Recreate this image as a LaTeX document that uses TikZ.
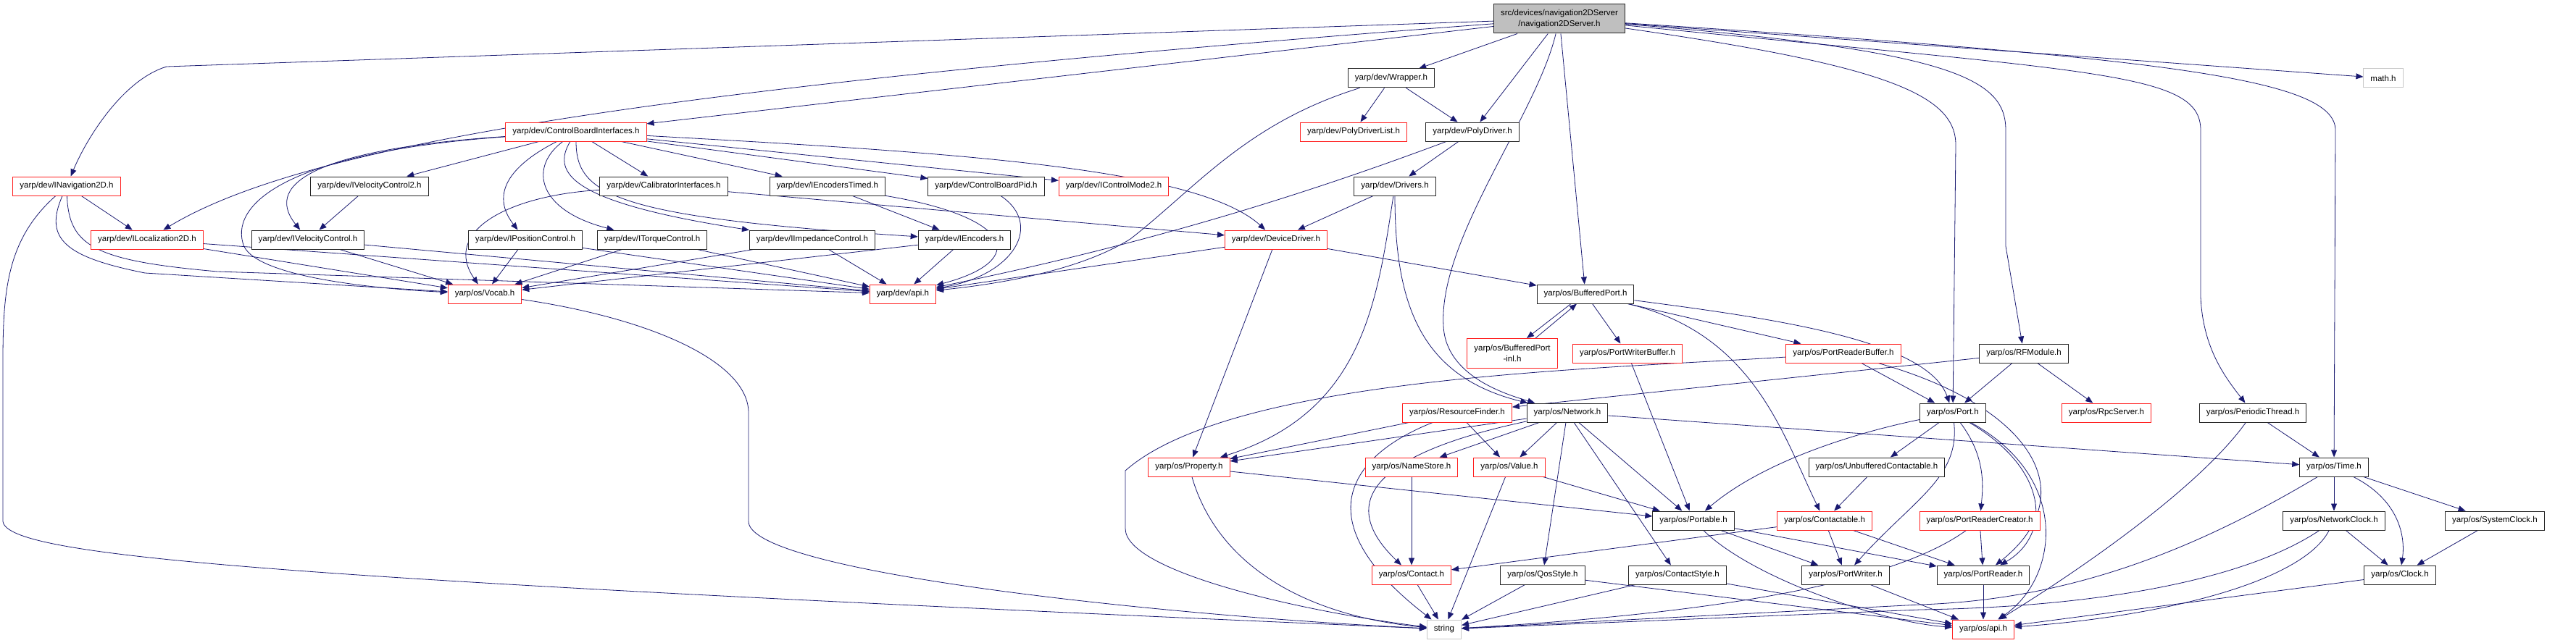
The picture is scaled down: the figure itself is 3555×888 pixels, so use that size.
\documentclass[tikz,border=0pt]{standalone}
\usepackage{fontspec}
\setmainfont{Liberation Sans}
\usetikzlibrary{arrows.meta,backgrounds}
\definecolor{edgeblue}{HTML}{191970}
\definecolor{rootgray}{HTML}{BFBFBF}
\definecolor{sysgray}{HTML}{C8C8C8}
\definecolor{incred}{HTML}{FF2020}
\tikzset{
  hdr/.style={draw=black!85, line width=1pt, fill=white, inner xsep=9.5pt, inner ysep=2pt,
    minimum height=26pt, font=\fontsize{11.5}{14.5}\selectfont},
  hdrred/.style={hdr, draw=incred},
  hdrsys/.style={hdr, draw=sysgray},
  hdrroot/.style={hdr, fill=rootgray, align=center, minimum height=40pt},
  hdrtwo/.style={hdrred, align=center, minimum height=41pt},
  inc/.style={-{Triangle[length=10pt,width=8pt]}, draw=edgeblue, line width=0.8pt}
}

\begin{document}
\begin{tikzpicture}[x=1pt, y=-1pt]
    \useasboundingbox (0,0) rectangle (3555,888);
    \node[hdrroot] (root) at (2152,26) {src/devices/navigation2DServer\\/navigation2DServer.h};
    \node[hdr] (wrap) at (1920,108) {yarp/dev/Wrapper.h};
    \node[hdrsys] (math) at (3289,108) {math.h};
    \node[hdrred] (cbi) at (795,182) {yarp/dev/ControlBoardInterfaces.h};
    \node[hdrred] (pdl) at (1868,182) {yarp/dev/PolyDriverList.h};
    \node[hdr] (pd) at (2032,182) {yarp/dev/PolyDriver.h};
    \node[hdrred] (inav) at (92,257) {yarp/dev/INavigation2D.h};
    \node[hdr] (ivc2) at (510,257) {yarp/dev/IVelocityControl2.h};
    \node[hdr] (calib) at (916,257) {yarp/dev/CalibratorInterfaces.h};
    \node[hdr] (iet) at (1142,257) {yarp/dev/IEncodersTimed.h};
    \node[hdr] (pid) at (1361,257) {yarp/dev/ControlBoardPid.h};
    \node[hdrred] (icm) at (1537,257) {yarp/dev/IControlMode2.h};
    \node[hdr] (drv) at (1925,257) {yarp/dev/Drivers.h};
    \node[hdrred] (iloc) at (203,331) {yarp/dev/ILocalization2D.h};
    \node[hdr] (ivc) at (425,331) {yarp/dev/IVelocityControl.h};
    \node[hdr] (ipc) at (725,331) {yarp/dev/IPositionControl.h};
    \node[hdr] (itc) at (900,331) {yarp/dev/ITorqueControl.h};
    \node[hdr] (iic) at (1121,331) {yarp/dev/IImpedanceControl.h};
    \node[hdr] (ienc) at (1331,331) {yarp/dev/IEncoders.h};
    \node[hdrred] (dd) at (1761,331) {yarp/dev/DeviceDriver.h};
    \node[hdrred] (vocab) at (669,406) {yarp/os/Vocab.h};
    \node[hdrred] (devapi) at (1246,406) {yarp/dev/api.h};
    \node[hdr] (bp) at (2188,406) {yarp/os/BufferedPort.h};
    \node[hdrtwo] (bpinl) at (2087,488) {yarp/os/BufferedPort\\-inl.h};
    \node[hdrred] (pwb) at (2246,488) {yarp/os/PortWriterBuffer.h};
    \node[hdrred] (prb) at (2544,488) {yarp/os/PortReaderBuffer.h};
    \node[hdr] (rfm) at (2793,488) {yarp/os/RFModule.h};
    \node[hdrred] (rf) at (2011,570) {yarp/os/ResourceFinder.h};
    \node[hdr] (net) at (2163,570) {yarp/os/Network.h};
    \node[hdr] (port) at (2695,570) {yarp/os/Port.h};
    \node[hdrred] (rpc) at (2907,570) {yarp/os/RpcServer.h};
    \node[hdr] (pth) at (3109,570) {yarp/os/PeriodicThread.h};
    \node[hdrred] (prop) at (1641,645) {yarp/os/Property.h};
    \node[hdrred] (ns) at (1948,645) {yarp/os/NameStore.h};
    \node[hdrred] (val) at (2083,645) {yarp/os/Value.h};
    \node[hdr] (ubc) at (2590,645) {yarp/os/UnbufferedContactable.h};
    \node[hdr] (time) at (3221,645) {yarp/os/Time.h};
    \node[hdr] (ptb) at (2337,719) {yarp/os/Portable.h};
    \node[hdrred] (cta) at (2518,719) {yarp/os/Contactable.h};
    \node[hdrred] (prc) at (2732,719) {yarp/os/PortReaderCreator.h};
    \node[hdr] (nclk) at (3221,719) {yarp/os/NetworkClock.h};
    \node[hdr] (sclk) at (3443,719) {yarp/os/SystemClock.h};
    \node[hdrred] (contact) at (1948,794) {yarp/os/Contact.h};
    \node[hdr] (qos) at (2129,794) {yarp/os/QosStyle.h};
    \node[hdr] (cst) at (2315,794) {yarp/os/ContactStyle.h};
    \node[hdr] (pw) at (2547,794) {yarp/os/PortWriter.h};
    \node[hdr] (pr) at (2737,794) {yarp/os/PortReader.h};
    \node[hdr] (clk) at (3312,794) {yarp/os/Clock.h};
    \node[hdrsys] (str) at (1993,869) {string};
    \node[hdrred] (osapi) at (2737,869) {yarp/os/api.h};

    \begin{scope}[on background layer]
    \draw[inc] (root) -- (230,92) .. controls (170,110) and (120,190) .. (inav);
    \draw[inc] (root) .. controls (900,120) and (420,200) .. (iloc);
    \draw[inc] (root) -- (cbi);
    \draw[inc] (root) -- (wrap);
    \draw[inc] (root) -- (pd);
    \draw[inc] (root) -- (math);
    \draw[inc] (root) .. controls (2120,160) and (1985,330) .. (1992,450) .. controls (1995,520) and (2080,545) .. (net);
    \draw[inc] (root) -- (bp);
    \draw[inc] (root) .. controls (2600,90) and (2699,130) .. (2699,200) -- (port);
    \draw[inc] (root) .. controls (2700,70) and (2768,110) .. (2768,180) -- (2768,340) -- (rfm);
    \draw[inc] (root) .. controls (2900,100) and (3037,100) .. (3037,180) -- (3037,410) .. controls (3040,480) and (3070,520) .. (pth);
    \draw[inc] (root) .. controls (3000,80) and (3223,110) .. (3223,180) -- (time);
    \draw[inc] (wrap) -- (pdl);
    \draw[inc] (wrap) -- (pd);
    \draw[inc] (wrap) .. controls (1720,170) and (1650,260) .. (1560,330) .. controls (1480,380) and (1350,395) .. (devapi);
    \draw[inc] (cbi) -- (ivc2);
    \draw[inc] (cbi) .. controls (450,205) and (360,250) .. (ivc);
    \draw[inc] (cbi) .. controls (400,210) and (320,280) .. (335,335) .. controls (345,385) and (540,400) .. (vocab);
    \draw[inc] (cbi) .. controls (720,220) and (670,260) .. (ipc);
    \draw[inc] (cbi) .. controls (730,230) and (740,290) .. (itc);
    \draw[inc] (cbi) .. controls (760,240) and (790,280) .. (iic);
    \draw[inc] (cbi) .. controls (795,270) and (850,300) .. (ienc);
    \draw[inc] (cbi) -- (calib);
    \draw[inc] (cbi) -- (iet);
    \draw[inc] (cbi) -- (pid);
    \draw[inc] (cbi) -- (icm);
    \draw[inc] (cbi) .. controls (1300,210) and (1650,230) .. (dd);
    \draw[inc] (calib) .. controls (700,270) and (610,320) .. (vocab);
    \draw[inc] (calib) -- (dd);
    \draw[inc] (ivc2) -- (ivc);
    \draw[inc] (ivc) -- (vocab);
    \draw[inc] (ivc) -- (devapi);
    \draw[inc] (ipc) -- (vocab);
    \draw[inc] (ipc) -- (devapi);
    \draw[inc] (itc) -- (vocab);
    \draw[inc] (itc) -- (devapi);
    \draw[inc] (iic) -- (vocab);
    \draw[inc] (iic) -- (devapi);
    \draw[inc] (ienc) -- (devapi);
    \draw[inc] (ienc) -- (vocab);
    \draw[inc] (iet) -- (ienc);
    \draw[inc] (iet) .. controls (1400,300) and (1420,360) .. (devapi);
    \draw[inc] (pid) .. controls (1440,310) and (1400,380) .. (devapi);
    \draw[inc] (dd) -- (devapi);
    \draw[inc] (dd) -- (prop);
    \draw[inc] (dd) -- (bp);
    \draw[inc] (pd) -- (drv);
    \draw[inc] (pd) .. controls (1850,250) and (1620,330) .. (devapi);
    \draw[inc] (drv) -- (dd);
    \draw[inc] (drv) .. controls (1900,420) and (1880,570) .. (prop);
    \draw[inc] (drv) .. controls (1925,420) and (1960,520) .. (net);
    \draw[inc] (inav) -- (iloc);
    \draw[inc] (inav) .. controls (10,330) and (4,400) .. (4,500) -- (4,720) .. controls (10,770) and (400,800) .. (str);
    \draw[inc] (inav) .. controls (60,330) and (90,355) .. (200,377) -- (vocab);
    \draw[inc] (inav) .. controls (95,340) and (130,360) .. (300,375) -- (devapi);
    \draw[inc] (iloc) -- (vocab);
    \draw[inc] (iloc) -- (devapi);
    \draw[inc] (vocab) .. controls (900,440) and (1033,500) .. (1033,570) -- (1033,720) .. controls (1033,790) and (1600,850) .. (str);
    \draw[inc] ([xshift=-20pt]bp.south) -- ([xshift=20pt]bpinl.north);
    \draw[inc] ([xshift=32pt]bpinl.north) -- ([xshift=-12pt]bp.south);
    \draw[inc] (bp) -- (pwb);
    \draw[inc] (bp) -- (prb);
    \draw[inc] (bp) .. controls (2450,440) and (2660,470) .. (port);
    \draw[inc] (bp) .. controls (2420,460) and (2460,600) .. (cta);
    \draw[inc] (pwb) -- (ptb);
    \draw[inc] (prb) -- (port);
    \draw[inc] (prb) .. controls (2800,560) and (2880,680) .. (pr);
    \draw[inc] (prb) .. controls (2200,510) and (1700,520) .. (1553,650) -- (1553,730) .. controls (1553,790) and (1800,845) .. (str);
    \draw[inc] (rfm) -- (port);
    \draw[inc] (rfm) -- (rpc);
    \draw[inc] (rfm) -- (rf);
    \draw[inc] (rf) -- (prop);
    \draw[inc] (rf) .. controls (1860,630) and (1800,720) .. (str);
    \draw[inc] (rf) -- (val);
    \draw[inc] (net) -- (prop);
    \draw[inc] (net) -- (ns);
    \draw[inc] (net) -- (val);
    \draw[inc] (net) -- (ptb);
    \draw[inc] (net) -- (qos);
    \draw[inc] (net) -- (cst);
    \draw[inc] (net) .. controls (1880,630) and (1850,700) .. (contact);
    \draw[inc] (net) -- (time);
    \draw[inc] (ns) -- (contact);
    \draw[inc] (val) -- (str);
    \draw[inc] (val) -- (ptb);
    \draw[inc] (prop) -- (ptb);
    \draw[inc] (prop) .. controls (1680,780) and (1800,850) .. (str);
    \draw[inc] (ubc) -- (cta);
    \draw[inc] (port) .. controls (2550,600) and (2430,640) .. (ptb);
    \draw[inc] (port) -- (ubc);
    \draw[inc] (port) .. controls (2705,660) and (2640,690) .. (pw);
    \draw[inc] (port) .. controls (2740,630) and (2737,670) .. (prc);
    \draw[inc] (port) .. controls (2830,650) and (2830,740) .. (pr);
    \draw[inc] (port) .. controls (2860,660) and (2840,800) .. (osapi);
    \draw[inc] (pth) -- (time);
    \draw[inc] (pth) .. controls (3030,680) and (2850,800) .. (osapi);
    \draw[inc] (time) -- (nclk);
    \draw[inc] (time) .. controls (3310,690) and (3320,740) .. (clk);
    \draw[inc] (time) -- (sclk);
    \draw[inc] (time) .. controls (3020,765) and (2850,828) .. (2650,835) -- (str);
    \draw[inc] (nclk) -- (clk);
    \draw[inc] (nclk) .. controls (3100,800) and (2900,838) .. (2650,842) -- (str);
    \draw[inc] (nclk) .. controls (3180,800) and (3000,850) .. (osapi);
    \draw[inc] (sclk) -- (clk);
    \draw[inc] (clk) -- (osapi);
    \draw[inc] (ptb) -- (pw);
    \draw[inc] (ptb) -- (pr);
    \draw[inc] (ptb) .. controls (2420,800) and (2600,860) .. (osapi);
    \draw[inc] (cta) -- (pw);
    \draw[inc] (cta) -- (pr);
    \draw[inc] (cta) -- (contact);
    \draw[inc] (prc) -- (pr);
    \draw[inc] (prc) .. controls (2620,800) and (2400,845) .. (str);
    \draw[inc] (pr) -- (osapi);
    \draw[inc] (pw) -- (osapi);
    \draw[inc] (contact) -- (str);
    \draw[inc] (qos) -- (str);
    \draw[inc] (qos) -- (osapi);
    \draw[inc] (cst) -- (str);
    \draw[inc] (cst) -- (osapi);
    \end{scope}
\end{tikzpicture}
\end{document}
